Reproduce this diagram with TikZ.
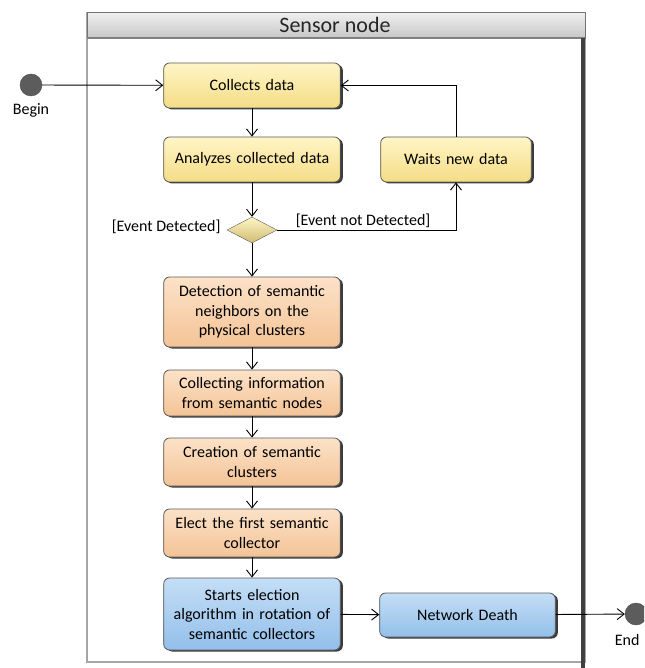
\documentclass[tikz,border=0pt]{standalone}
\usepackage{fontspec}
\setmainfont{Carlito}
\usetikzlibrary{shapes.geometric,arrows.meta,shadows}

\definecolor{yellowTop}{HTML}{FFF5C6}
\definecolor{yellowBot}{HTML}{F4DD86}
\definecolor{peachTop}{HTML}{FCE2C8}
\definecolor{peachBot}{HTML}{F4C396}
\definecolor{blueTop}{HTML}{C4DEF6}
\definecolor{blueBot}{HTML}{93BFEA}
\definecolor{edgeGray}{HTML}{5A5A5A}
\definecolor{dotGray}{HTML}{5C5C5C}

\tikzset{
    activity/.style={draw=edgeGray, line width=0.8pt, rounded corners=6pt,
        minimum width=172pt, minimum height=45pt, text width=170pt, align=center,
        font=\fontsize{16}{19.5}\selectfont,
        drop shadow={shadow xshift=2.5pt, shadow yshift=-1.5pt, fill=black!85, opacity=0.9}},
    yellowbox/.style={activity, top color=yellowTop, bottom color=yellowBot},
    peachbox/.style={activity, top color=peachTop, bottom color=peachBot},
    bluebox/.style={activity, top color=blueTop, bottom color=blueBot},
    flow/.style={line width=0.9pt, -{Straight Barb[length=7pt, width=11pt]}},
    terminal/.style={circle, draw=black!70, fill=dotGray, minimum size=22pt, inner sep=0pt},
    smalltext/.style={font=\fontsize{16}{19}\selectfont}
}

\begin{document}
\begin{tikzpicture}[x=1pt, y=-1pt]
        \useasboundingbox (0, 0) rectangle (644, 668);
        \clip (0, 0) rectangle (644, 668);
        % swimlane
        \draw[black!35, line width=1.2pt] (87, 12.5) rectangle (585, 662);
        \draw[black!55, top color=black!6, bottom color=black!22] (87, 12.5) rectangle (585, 38);
        \draw[black!50, line width=1.5pt] (87, 38) -- (585, 38);
        \draw[black!75, line width=3.5pt] (583, 38) -- (583, 668);
        \node[font=\fontsize{22}{26}\selectfont, text=black!85, name=lane] at (335, 24.5) {Sensor node};

        \node[terminal, name=begin] at (31, 85) {};
        \node[smalltext, name=begin_lbl] at (31, 110) {Begin};

        \node[yellowbox, name=collects] at (252, 85.5) {Collects data};
        \node[yellowbox, name=analyzes] at (252, 159.5) {Analyzes collected data};
        \node[yellowbox, minimum width=146pt, text width=144pt, name=waits] at (456, 159.5) {Waits new data};
        \node[draw=edgeGray, diamond, minimum width=50pt, minimum height=26pt, inner sep=0pt,
            top color=yellowTop, bottom color=yellowBot!85!black, name=decision] at (252, 230) {};
        \node[smalltext, anchor=east, name=detected] at (224, 227) {[Event Detected]};

        \node[peachbox, minimum height=70pt, name=detection] at (252, 312) {Detection of semantic\\ neighbors on the\\ physical clusters};
        \node[peachbox, minimum height=46pt, name=collecting] at (252, 393) {Collecting information\\ from semantic nodes};
        \node[peachbox, minimum height=48pt, name=creation] at (252, 462) {Creation of semantic\\ clusters};
        \node[peachbox, minimum height=48pt, name=elect] at (252, 533) {Elect the first semantic\\ collector};
        \node[bluebox, minimum height=72pt, name=starts] at (252, 614) {Starts election\\ algorithm in rotation of\\ semantic collectors};
        \node[bluebox, minimum width=171pt, text width=169pt, minimum height=44pt, name=death] at (467.5, 615) {Network Death};

        \node[terminal, name=finish] at (636, 614) {};
        \node[smalltext, anchor=east, name=finish_lbl] at (643, 640) {End};

        \draw[flow] (begin) -- (collects);
        \draw[flow] (collects) -- (analyzes);
        \draw[flow] (analyzes) -- (decision);
        \draw[flow] (decision.east) -| node[smalltext, pos=0.24, above=-1pt] {[Event not Detected]} (waits.south);
        \draw[flow] (waits.north) |- (collects.east);
        \draw[flow] (decision) -- (detection);
        \draw[flow] (detection) -- (collecting);
        \draw[flow] (collecting) -- (creation);
        \draw[flow] (creation) -- (elect);
        \draw[flow] (elect) -- (starts);
        \draw[flow] (starts) -- (death);
        \draw[flow] (death) -- (finish);
    \end{tikzpicture}
\end{document}
